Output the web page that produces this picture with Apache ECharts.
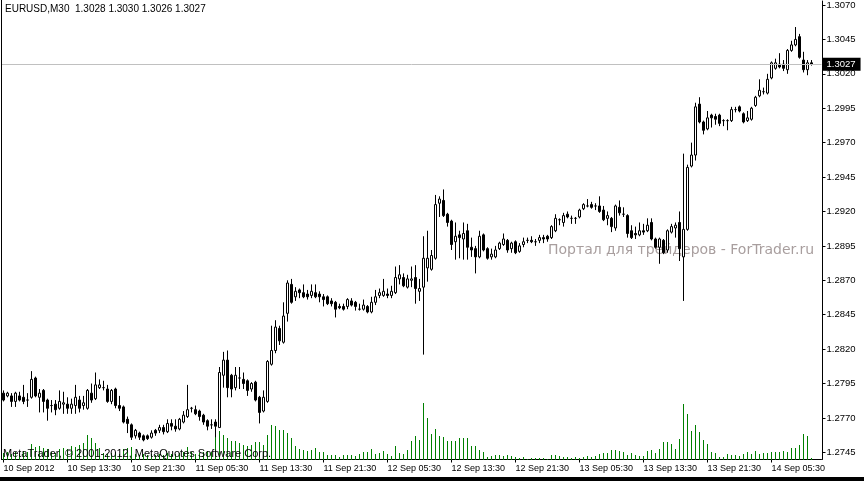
<!DOCTYPE html>
<html><head><meta charset="utf-8">
<script src="https://cdn.jsdelivr.net/npm/echarts@6/dist/echarts.min.js"></script>
<style>html,body{margin:0;padding:0;background:#fff}#c{width:864px;height:481px}</style>
</head><body><div id="c"></div>
<script>
const headerText = 'EURUSD,M30  1.3028 1.3030 1.3026 1.3027';
const copyrightText = 'MetaTrader, \u00A9 2001-2012, MetaQuotes Software Corp.';
const watermarkText = 'Портал для трейдеров - ForTrader.ru';

const opens = [1.2788,1.2786,1.2786,1.2782,1.2786,1.2785,1.2783,1.2785,1.2799,1.2785,
1.2790,1.2783,1.2779,1.2780,1.2777,1.2780,1.2780,1.2777,1.2779,1.2783,
1.2779,1.2777,1.2788,1.2784,1.2792,1.2792,1.2791,1.2782,1.2791,1.2779,
1.2778,1.2769,1.2765,1.2757,1.2759,1.2757,1.2757,1.2756,1.2761,1.2761,
1.2763,1.2760,1.2766,1.2764,1.2762,1.2767,1.2771,1.2777,1.2776,1.2775,
1.2772,1.2768,1.2765,1.2767,1.2763,1.2801,1.2812,1.2801,1.2792,1.2799,
1.2798,1.2797,1.2791,1.2796,1.2785,1.2775,1.2782,1.2809,1.2819,1.2835,
1.2825,1.2846,1.2867,1.2858,1.2863,1.2861,1.2860,1.2859,1.2861,1.2860,
1.2858,1.2858,1.2855,1.2854,1.2851,1.2851,1.2851,1.2855,1.2854,1.2849,
1.2849,1.2851,1.2847,1.2854,1.2859,1.2859,1.2860,1.2859,1.2861,1.2871,
1.2872,1.2865,1.2870,1.2872,1.2862,1.2865,1.2879,1.2878,1.2886,1.2926,
1.2928,1.2918,1.2913,1.2898,1.2903,1.2900,1.2906,1.2894,1.2893,1.2887,
1.2903,1.2893,1.2887,1.2887,1.2893,1.2896,1.2899,1.2893,1.2898,1.2891,
1.2896,1.2899,1.2899,1.2898,1.2899,1.2901,1.2902,1.2901,1.2906,1.2914,
1.2912,1.2918,1.2915,1.2915,1.2916,1.2922,1.2924,1.2925,1.2924,1.2924,
1.2921,1.2915,1.2915,1.2908,1.2923,1.2918,1.2917,1.2906,1.2904,1.2903,
1.2906,1.2906,1.2912,1.2900,1.2894,1.2899,1.2892,1.2905,1.2908,1.2912,
1.2887,1.2907,1.2953,1.2961,1.2998,1.2985,1.2980,1.2990,1.2989,1.2990,
1.2986,1.2986,1.2986,1.2994,1.2996,1.2991,1.2986,1.2987,1.2997,1.3004,
1.3007,1.3006,1.3017,1.3024,1.3027,1.3027,1.3023,1.3037,1.3041,1.3047,
1.3030,1.3023,1.3028];
const highs = [1.2790,1.2789,1.2788,1.2789,1.2789,1.2794,1.2788,1.2804,1.2800,1.2791,
1.2791,1.2784,1.2783,1.2783,1.2790,1.2789,1.2785,1.2784,1.2794,1.2786,
1.2786,1.2791,1.2795,1.2803,1.2798,1.2797,1.2794,1.2791,1.2792,1.2786,
1.2779,1.2771,1.2766,1.2762,1.2760,1.2758,1.2758,1.2761,1.2762,1.2765,
1.2765,1.2769,1.2769,1.2769,1.2770,1.2775,1.2794,1.2778,1.2779,1.2776,
1.2773,1.2769,1.2769,1.2769,1.2807,1.2818,1.2819,1.2802,1.2807,1.2807,
1.2803,1.2798,1.2796,1.2797,1.2786,1.2790,1.2812,1.2837,1.2841,1.2837,
1.2854,1.2870,1.2871,1.2865,1.2864,1.2867,1.2863,1.2867,1.2867,1.2862,
1.2860,1.2859,1.2857,1.2855,1.2853,1.2853,1.2857,1.2857,1.2855,1.2853,
1.2856,1.2852,1.2858,1.2863,1.2864,1.2871,1.2864,1.2866,1.2880,1.2881,
1.2875,1.2874,1.2880,1.2881,1.2871,1.2902,1.2906,1.2892,1.2932,1.2931,
1.2936,1.2919,1.2914,1.2912,1.2906,1.2912,1.2911,1.2901,1.2895,1.2906,
1.2904,1.2894,1.2893,1.2895,1.2898,1.2904,1.2900,1.2898,1.2899,1.2897,
1.2901,1.2901,1.2902,1.2900,1.2903,1.2903,1.2903,1.2910,1.2918,1.2915,
1.2919,1.2920,1.2917,1.2916,1.2922,1.2926,1.2929,1.2927,1.2926,1.2931,
1.2924,1.2920,1.2916,1.2925,1.2928,1.2923,1.2918,1.2910,1.2909,1.2912,
1.2911,1.2915,1.2915,1.2901,1.2901,1.2900,1.2907,1.2911,1.2912,1.2920,
1.2962,1.2954,1.2970,1.2999,1.3003,1.2986,1.2993,1.2991,1.2991,1.2991,
1.2987,1.2987,1.2996,1.2996,1.2997,1.2992,1.2993,1.2996,1.3004,1.3016,
1.3010,1.3020,1.3029,1.3031,1.3035,1.3030,1.3038,1.3044,1.3054,1.3049,
1.3036,1.3030,1.3030];
const lows = [1.2782,1.2785,1.2778,1.2778,1.2782,1.2780,1.2778,1.2784,1.2785,1.2774,
1.2774,1.2768,1.2774,1.2772,1.2776,1.2773,1.2773,1.2773,1.2773,1.2774,
1.2776,1.2776,1.2781,1.2783,1.2791,1.2790,1.2781,1.2780,1.2777,1.2775,
1.2766,1.2759,1.2754,1.2755,1.2754,1.2753,1.2754,1.2755,1.2757,1.2759,
1.2758,1.2759,1.2761,1.2760,1.2761,1.2766,1.2770,1.2774,1.2772,1.2768,
1.2765,1.2761,1.2762,1.2756,1.2763,1.2792,1.2785,1.2785,1.2790,1.2791,
1.2791,1.2786,1.2789,1.2782,1.2766,1.2774,1.2781,1.2808,1.2817,1.2823,
1.2824,1.2840,1.2853,1.2855,1.2857,1.2857,1.2856,1.2857,1.2857,1.2854,
1.2851,1.2852,1.2851,1.2843,1.2849,1.2848,1.2849,1.2851,1.2848,1.2848,
1.2848,1.2846,1.2846,1.2852,1.2857,1.2858,1.2857,1.2857,1.2860,1.2867,
1.2865,1.2864,1.2865,1.2853,1.2855,1.2816,1.2869,1.2877,1.2885,1.2916,
1.2916,1.2909,1.2892,1.2885,1.2886,1.2885,1.2885,1.2887,1.2875,1.2886,
1.2891,1.2885,1.2885,1.2886,1.2892,1.2895,1.2890,1.2890,1.2889,1.2890,
1.2894,1.2897,1.2897,1.2895,1.2897,1.2897,1.2898,1.2900,1.2905,1.2910,
1.2909,1.2915,1.2911,1.2911,1.2915,1.2921,1.2923,1.2922,1.2921,1.2919,
1.2913,1.2910,1.2905,1.2906,1.2917,1.2916,1.2901,1.2900,1.2900,1.2902,
1.2903,1.2905,1.2899,1.2893,1.2882,1.2889,1.2890,1.2904,1.2901,1.2884,
1.2855,1.2906,1.2952,1.2957,1.2984,1.2976,1.2979,1.2981,1.2983,1.2982,
1.2982,1.2979,1.2985,1.2992,1.2992,1.2984,1.2985,1.2986,1.2996,1.3003,
1.3005,1.3005,1.3016,1.3023,1.3024,1.3022,1.3020,1.3036,1.3040,1.3031,
1.3021,1.3019,1.3026];
const closes = [1.2783,1.2788,1.2782,1.2788,1.2783,1.2782,1.2783,1.2798,1.2786,1.2788,
1.2782,1.2777,1.2779,1.2776,1.2782,1.2781,1.2777,1.2780,1.2785,1.2777,
1.2781,1.2790,1.2783,1.2794,1.2794,1.2792,1.2782,1.2790,1.2779,1.2777,
1.2767,1.2766,1.2756,1.2761,1.2756,1.2754,1.2755,1.2759,1.2759,1.2763,
1.2760,1.2766,1.2764,1.2762,1.2769,1.2772,1.2776,1.2777,1.2773,1.2771,
1.2767,1.2764,1.2765,1.2764,1.2803,1.2812,1.2792,1.2791,1.2801,1.2799,
1.2795,1.2790,1.2795,1.2783,1.2774,1.2785,1.2811,1.2819,1.2836,1.2826,
1.2844,1.2868,1.2854,1.2862,1.2861,1.2858,1.2858,1.2862,1.2858,1.2858,
1.2856,1.2853,1.2853,1.2849,1.2850,1.2849,1.2856,1.2852,1.2851,1.2849,
1.2852,1.2847,1.2854,1.2858,1.2861,1.2862,1.2859,1.2862,1.2872,1.2874,
1.2866,1.2871,1.2871,1.2864,1.2864,1.2886,1.2886,1.2888,1.2925,1.2929,
1.2917,1.2912,1.2896,1.2902,1.2901,1.2904,1.2894,1.2892,1.2887,1.2902,
1.2892,1.2886,1.2889,1.2892,1.2897,1.2900,1.2892,1.2897,1.2890,1.2895,
1.2898,1.2899,1.2898,1.2898,1.2901,1.2900,1.2900,1.2909,1.2915,1.2914,
1.2917,1.2916,1.2915,1.2915,1.2921,1.2925,1.2924,1.2923,1.2924,1.2920,
1.2914,1.2917,1.2909,1.2924,1.2919,1.2918,1.2904,1.2901,1.2903,1.2906,
1.2905,1.2910,1.2900,1.2894,1.2900,1.2890,1.2906,1.2909,1.2910,1.2893,
1.2907,1.2952,1.2961,1.2996,1.2985,1.2979,1.2988,1.2988,1.2987,1.2984,
1.2986,1.2986,1.2994,1.2994,1.2993,1.2985,1.2988,1.2995,1.3003,1.3008,
1.3007,1.3016,1.3028,1.3028,1.3025,1.3024,1.3037,1.3041,1.3045,1.3032,
1.3023,1.3028,1.3027];
const volumes = [21,24,18,24,21,27,24,48,39,42,
36,33,24,21,33,36,33,42,39,45,
51,75,66,51,36,21,18,21,24,18,
33,36,39,18,15,18,15,18,15,18,
15,21,18,18,21,24,39,24,18,21,
24,27,24,90,87,75,66,57,57,51,
45,42,45,54,54,45,75,105,102,90,
90,81,66,42,33,30,27,30,36,24,
24,15,15,15,9,15,15,15,12,18,
24,24,33,18,21,27,18,12,42,21,
18,30,55,72,60,171,126,78,93,72,
69,55,57,57,66,66,66,42,42,30,
24,9,12,15,15,12,15,12,9,6,
9,3,6,6,6,6,3,15,15,12,
9,9,6,9,6,9,12,9,12,18,
21,21,30,30,27,24,15,21,15,12,
12,27,30,21,33,54,54,48,33,63,
168,138,87,105,84,60,48,24,21,9,
9,18,15,15,12,18,24,18,27,18,
21,21,24,24,24,27,24,36,36,45,
78,72,6];

const startTimeUTC = Date.UTC(2012, 8, 10, 5, 30);
const barMinutes = 30;
const emptyBarsRight = 2;
const timeTickEvery = 16;
const timeTickLabels = ['10 Sep 2012','10 Sep 13:30','10 Sep 21:30','11 Sep 05:30','11 Sep 13:30',
  '11 Sep 21:30','12 Sep 05:30','12 Sep 13:30','12 Sep 21:30','13 Sep 05:30','13 Sep 13:30',
  '13 Sep 21:30','14 Sep 05:30'];
const priceTicks = [1.2745,1.2770,1.2795,1.2820,1.2845,1.2870,1.2895,1.2920,1.2945,1.2970,1.2995,1.3020,1.3045,1.3070];

const categories = [];
for (let i = 0; i < opens.length + emptyBarsRight; i++) {
  const d = new Date(startTimeUTC + i * barMinutes * 60000);
  categories.push(d.toISOString().slice(0, 16).replace('T', ' '));
}
const candleData = opens.map((o, i) => [o, closes[i], lows[i], highs[i]]);
const volumeData = volumes.map((v, i) => [i, v]);
const lastClose = closes[closes.length - 1];
const FONT = "'Liberation Sans', Arial, sans-serif";

const chart = echarts.init(document.getElementById('c'), null, {renderer: 'canvas'});
const labelShown = (idx) => idx % timeTickEvery === 0 && idx / timeTickEvery < timeTickLabels.length;

chart.setOption({
  animation: false,
  backgroundColor: '#ffffff',
  textStyle: {fontFamily: FONT},
  grid: [
    {left: 1.5, top: 0, width: 820, height: 459.5, containLabel: false},
    {left: 1.5, top: 399.5, width: 820, height: 60, containLabel: false}
  ],
  xAxis: [
    {
      type: 'category', gridIndex: 0, data: categories, boundaryGap: true,
      axisLine: {show: true, lineStyle: {color: '#000', width: 1}},
      axisTick: {show: true, alignWithLabel: true, length: 3, interval: (i) => labelShown(i), lineStyle: {color: '#000'}},
      axisLabel: {
        show: true, interval: (i) => labelShown(i), align: 'left', margin: 5,
        fontSize: 9, fontFamily: FONT, color: '#000', hideOverlap: false,
        formatter: (v, i) => labelShown(i) ? timeTickLabels[i / timeTickEvery] : ''
      },
      splitLine: {show: false}
    },
    {type: 'category', gridIndex: 1, data: categories, boundaryGap: true, show: false}
  ],
  yAxis: [
    {
      type: 'value', gridIndex: 0, position: 'right', offset: 1,
      min: 1.27398, max: 1.30729, scale: true,
      axisLine: {show: true, lineStyle: {color: '#000', width: 1}},
      axisTick: {show: true, length: 3, customValues: priceTicks, lineStyle: {color: '#000'}},
      axisLabel: {show: true, customValues: priceTicks, margin: 4, fontSize: 9.5, fontFamily: FONT, color: '#000',
        formatter: (v) => v.toFixed(4)},
      splitLine: {show: false}
    },
    {type: 'value', gridIndex: 1, min: 0, max: 180, show: false}
  ],
  series: [
    {
      type: 'custom', xAxisIndex: 1, yAxisIndex: 1, data: volumeData, silent: true, z: 1, clip: false,
      encode: {x: 0, y: 1},
      renderItem: (params, api) => {
        const top = api.coord([api.value(0), api.value(1)]);
        const base = api.coord([api.value(0), 0]);
        const x = Math.round(top[0] - 0.5);
        const y = Math.round(top[1]);
        return {type: 'rect', shape: {x: x, y: y, width: 1, height: Math.round(base[1]) - y},
          style: {fill: '#008000'}};
      }
    },
    {
      type: 'candlestick', xAxisIndex: 0, yAxisIndex: 0, data: candleData, barWidth: 2,
      itemStyle: {color: '#ffffff', color0: '#000000', borderColor: '#000000', borderColor0: '#000000', borderColorDoji: '#000000', borderWidth: 1},
      silent: true, z: 3,
      markLine: {
        symbol: ['none', 'none'], silent: true, animation: false, precision: 4,
        lineStyle: {color: '#c0c0c0', width: 1, type: 'solid'},
        label: {show: true, position: 'end', distance: 1, formatter: () => lastClose.toFixed(4),
          backgroundColor: '#000', color: '#fff', padding: [2, 5, 1, 4], fontSize: 9.5, fontFamily: FONT},
        emphasis: {disabled: true},
        data: [{yAxis: lastClose}]
      }
    }
  ],
  graphic: [
    {type: 'text', left: 548, top: 243, z: 1, silent: true,
      style: {text: watermarkText, font: "14px 'DejaVu Sans'", fill: '#a89e9e'}},
    {type: 'text', left: 5, top: 4.5, z: 20, silent: true,
      style: {text: headerText, font: "10px 'Liberation Sans'", fill: '#000'}},
    {type: 'text', left: 3, top: 448.5, z: 20, silent: true,
      style: {text: copyrightText, font: "11px 'Liberation Sans'", fill: '#000'}},
    {type: 'rect', shape: {x: 0, y: 477, width: 864, height: 4}, z: 20, silent: true, style: {fill: '#000'}},
    {type: 'line', shape: {x1: 1.5, y1: 0, x2: 1.5, y2: 460}, z: 20, silent: true, style: {stroke: '#000', lineWidth: 1}}
  ]
});
</script></body></html>
